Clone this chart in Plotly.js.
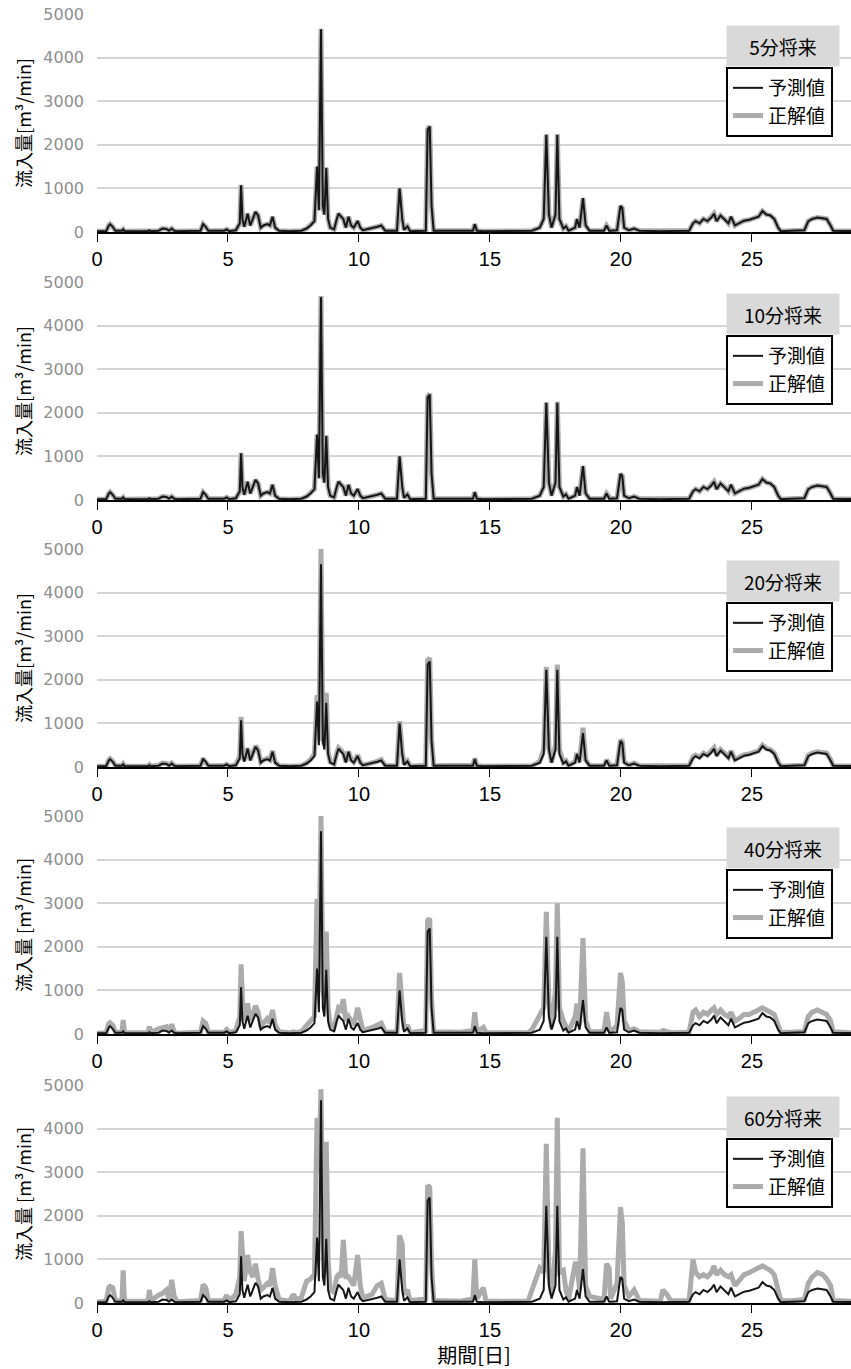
<!DOCTYPE html>
<html>
<head>
<meta charset="utf-8">
<script src="https://cdn.plot.ly/plotly-3.0.1.min.js"></script>
<style>html,body{margin:0;padding:0;background:#fff;}#chart{width:851px;height:1369px;}</style>
</head>
<body>
<div id="chart"></div>
<script>
// ---- data ----
const horizons = ['5分将来', '10分将来', '20分将来', '40分将来', '60分将来'];
const seriesNames = ['予測値', '正解値'];
const xTicks = [0, 5, 10, 15, 20, 25];
const yTicks = [0, 1000, 2000, 3000, 4000, 5000];
const yTitles = ['流入量[m³/min]', '流入量[m³/min]', '流入量[m³/min]', '流入量 [m³/min]', '流入量 [m³/min]'];
const xTitle = '期間[日]';

const days = [0.0,0.35,0.45,0.5,0.6,0.7,0.95,1.0,1.05,1.95,
 2.0,2.05,2.35,2.5,2.65,2.75,2.85,2.95,3.05,3.95,
 4.05,4.15,4.25,4.85,4.95,5.05,5.3,5.45,5.5,5.55,
 5.62,5.75,5.85,5.95,6.05,6.15,6.25,6.35,6.5,6.6,
 6.7,6.8,6.95,7.35,7.5,7.6,7.8,8.0,8.15,8.3,8.4,
 8.47,8.55,8.62,8.68,8.75,8.82,8.9,9.05,9.15,9.22,
 9.32,9.4,9.5,9.6,9.7,9.8,9.95,10.05,10.15,10.5,
 10.7,10.85,11.0,11.45,11.55,11.65,11.72,11.85,11.95,12.55,
 12.62,12.7,12.77,12.85,13.9,14.35,14.42,14.5,14.75,14.85,16.45,
 16.6,16.9,17.05,17.15,17.25,17.35,17.5,17.57,17.65,17.8,
 17.9,18.0,18.25,18.32,18.42,18.55,18.65,18.8,19.35,19.45,
 19.55,19.6,19.85,19.98,20.05,20.12,20.3,20.5,20.7,21.5,
 21.6,21.75,21.9,22.6,22.75,22.85,23.0,23.15,23.3,23.45,
 23.55,23.65,23.8,23.95,24.1,24.2,24.35,24.5,24.7,24.9,
 25.1,25.25,25.4,25.55,25.7,25.85,26.0,26.1,26.5,27.0,
 27.15,27.3,27.5,27.7,27.85,28.0,28.1,28.8];

const pred = [20,20,150,180,120,30,30,60,20,20,
 40,20,30,80,70,30,80,30,20,30,
 180,120,30,30,60,20,40,200,1070,300,
 120,420,150,300,460,380,100,150,180,150,
 350,100,30,20,20,20,30,80,150,250,1500,
 500,4650,600,400,1470,300,100,60,300,420,
 350,300,100,350,150,100,250,100,40,80,
 120,150,30,30,1000,300,50,130,20,30,
 2350,2420,600,30,20,30,180,30,20,20,20,
 30,100,300,2230,400,100,400,2230,300,80,
 130,30,100,300,100,780,150,30,30,150,
 30,30,40,600,550,100,40,80,30,20,
 20,20,20,30,200,250,200,300,250,330,
 420,250,380,300,200,350,150,200,260,280,
 320,350,480,400,380,300,100,20,30,40,
 250,300,330,320,300,150,30,20];

const obs5 = [20,20,150,180,120,30,30,60,20,20,
 40,20,30,80,70,30,80,30,20,30,
 180,120,30,30,60,20,40,200,1080,300,
 120,420,150,300,460,380,100,150,180,150,
 350,100,30,20,20,20,30,80,150,250,1500,
 500,4660,600,400,1480,300,100,60,300,420,
 350,300,100,350,150,100,250,100,40,80,
 120,150,30,30,1000,300,50,130,20,30,
 2360,2430,600,30,20,30,180,30,20,20,20,
 30,100,300,2240,400,100,400,2240,300,80,
 130,30,100,300,100,780,150,30,30,150,
 30,30,40,600,550,100,40,80,30,20,
 20,20,20,30,200,250,200,300,250,330,
 420,250,380,300,200,350,150,200,260,280,
 320,350,480,400,380,300,100,20,30,40,
 250,300,330,320,300,150,30,20];

const obs10 = [20,20,150,180,120,30,30,60,20,20,
 40,20,30,80,70,30,80,30,20,30,
 180,120,30,30,60,20,40,200,1080,300,
 120,420,150,300,460,380,100,150,180,150,
 350,100,30,20,20,20,30,80,150,250,1500,
 500,4680,600,400,1480,300,100,60,300,420,
 350,300,100,350,150,100,250,100,40,80,
 120,150,30,30,1000,300,50,130,20,30,
 2370,2440,600,30,20,30,180,30,20,20,20,
 30,100,300,2240,400,100,400,2250,300,80,
 130,30,100,300,100,780,150,30,30,150,
 30,30,40,600,550,100,40,80,30,20,
 20,20,20,30,200,250,200,300,250,330,
 420,250,380,300,200,350,150,200,260,280,
 320,350,480,400,380,300,100,20,30,40,
 250,300,330,320,300,150,30,20];

const obs20 = [20,20,160,190,130,30,30,70,20,20,
 50,20,40,90,80,40,90,30,20,30,
 190,130,30,30,60,20,50,250,1150,350,
 150,430,160,320,480,400,110,160,200,160,
 370,110,30,20,20,20,30,90,170,300,1650,
 600,5000,700,500,1700,350,120,70,320,440,
 380,320,120,360,170,110,270,110,40,90,
 130,170,30,30,1050,350,60,140,20,40,
 2450,2500,650,30,20,40,200,30,20,20,20,
 30,120,400,2300,450,100,500,2350,400,100,
 140,30,120,320,120,900,170,30,30,160,
 40,30,50,620,580,120,40,90,30,20,
 20,20,20,30,230,270,220,320,270,350,
 440,270,400,320,220,370,170,220,280,300,
 340,370,500,420,400,320,120,20,30,40,
 270,320,350,340,320,170,30,20];

const obs40 = [20,30,240,260,200,40,40,320,30,30,
 170,40,120,150,170,60,220,50,20,40,
 300,250,40,40,100,30,80,400,1600,800,
 300,700,300,450,650,500,200,250,350,250,
 550,200,50,30,50,30,60,200,300,400,3100,
 1500,5000,1000,800,2350,600,200,150,500,600,
 550,800,300,400,300,200,600,300,80,150,
 200,250,50,40,1400,800,100,200,30,80,
 2600,2650,800,50,40,80,500,50,150,30,30,
 100,400,600,2800,700,150,1000,3000,600,300,
 200,50,400,700,200,2200,300,60,50,500,
 100,40,200,1400,1200,300,80,120,50,40,
 80,50,30,40,500,550,400,500,450,550,
 600,450,550,450,400,500,300,350,450,450,
 500,550,600,550,500,450,200,40,40,60,
 400,500,550,500,450,300,50,30];

const obs60 = [20,40,360,380,350,60,50,750,40,40,
 300,50,180,220,300,80,530,150,30,60,
 420,350,50,60,180,40,200,600,1650,1300,
 500,1100,700,600,900,550,300,350,450,400,
 800,400,80,40,200,80,120,500,550,650,4250,
 3000,4900,1500,700,3700,1000,300,250,600,650,
 600,1450,600,600,500,400,1100,400,120,200,
 400,450,80,60,1550,1350,200,300,50,100,
 2700,2650,900,60,40,100,1000,100,350,40,40,
 300,800,700,3650,600,200,1200,4250,700,750,
 300,80,900,900,300,3550,400,150,80,900,
 800,100,450,2200,1850,400,150,300,60,40,
 300,200,50,60,1000,700,600,650,600,700,
 850,650,750,650,600,650,400,500,650,700,
 750,800,850,800,750,650,300,60,50,80,
 450,600,700,650,550,400,60,40];

const observed = [obs5, obs10, obs20, obs40, obs60];

// ---- layout geometry ----
const W = 851, H = 1369;
const left = 97, plotW = W - left;
const panelTop = [14, 282, 549, 816, 1085];
const panelH = 218;
const cjk = 'Noto Sans CJK JP, Noto Sans CJK SC, sans-serif';

const traces = [];
const layout = {
  width: W, height: H,
  margin: {l: left, r: 0, t: 0, b: 0},
  paper_bgcolor: '#ffffff', plot_bgcolor: '#ffffff',
  showlegend: true,
  annotations: [],
  font: {family: cjk, color: '#000'}
};

horizons.forEach((h, i) => {
  const n = i === 0 ? '' : String(i + 1);
  const lg = 'legend' + n;
  traces.push({
    type: 'scatter', mode: 'lines', x: days, y: observed[i],
    name: seriesNames[1], xaxis: 'x' + n, yaxis: 'y' + n, legend: lg,
    line: {color: '#ababab', width: 5}, hoverinfo: 'skip'
  });
  traces.push({
    type: 'scatter', mode: 'lines', x: days, y: pred,
    name: seriesNames[0], xaxis: 'x' + n, yaxis: 'y' + n, legend: lg,
    line: {color: '#151515', width: 2}, hoverinfo: 'skip'
  });
  const top = panelTop[i], bot = top + panelH;
  layout['xaxis' + n] = {
    domain: [0, 1], anchor: 'y' + n, range: [0, 28.78],
    tickmode: 'array', tickvals: xTicks, ticktext: xTicks.map(String),
    ticks: 'outside', ticklen: 8, tickwidth: 1, tickcolor: '#000',
    showgrid: false, zeroline: false,
    showline: true, linecolor: '#000', linewidth: 1.5,
    tickfont: {family: 'Liberation Sans Narrow, Liberation Sans, sans-serif', size: 20, color: '#000'},
    fixedrange: true
  };
  if (i === horizons.length - 1) {
    layout['xaxis' + n].title = {text: xTitle, standoff: 10,
      font: {family: cjk, size: 20, color: '#000'}};
  }
  layout['yaxis' + n] = {
    domain: [1 - bot / H, 1 - top / H], anchor: 'x' + n, range: [0, 5000],
    tickmode: 'array', tickvals: yTicks, ticktext: yTicks.map(String),
    showgrid: true, gridcolor: '#d4d4d4', gridwidth: 2,
    zeroline: false, showline: false, ticks: '',
    ticklabelstandoff: 12,
    tickfont: {family: 'DejaVu Sans, sans-serif', size: 16, color: '#8e8e8e'},
    title: {text: yTitles[i], standoff: 6,
      font: {family: cjk, size: 18, color: '#000'}},
    fixedrange: true
  };
  layout[lg] = {
    x: (726 - left) / plotW, xanchor: 'left',
    y: 1 - (top + 53) / H, yanchor: 'top',
    xref: 'paper', yref: 'paper',
    bgcolor: '#ffffff', bordercolor: '#000', borderwidth: 2,
    traceorder: 'reversed',
    font: {family: cjk, size: 19, color: '#000'}
  };
  layout.annotations.push({
    xref: 'paper', yref: 'paper',
    x: (783 - left) / plotW, y: 1 - (top + 32) / H,
    xanchor: 'center', yanchor: 'middle',
    text: h, showarrow: false, bgcolor: '#d9d9d9',
    width: 110, height: 38,
    font: {family: cjk, size: 19, color: '#000'}
  });
});

Plotly.newPlot('chart', traces, layout, {displayModeBar: false, staticPlot: true});
</script>
</body>
</html>
